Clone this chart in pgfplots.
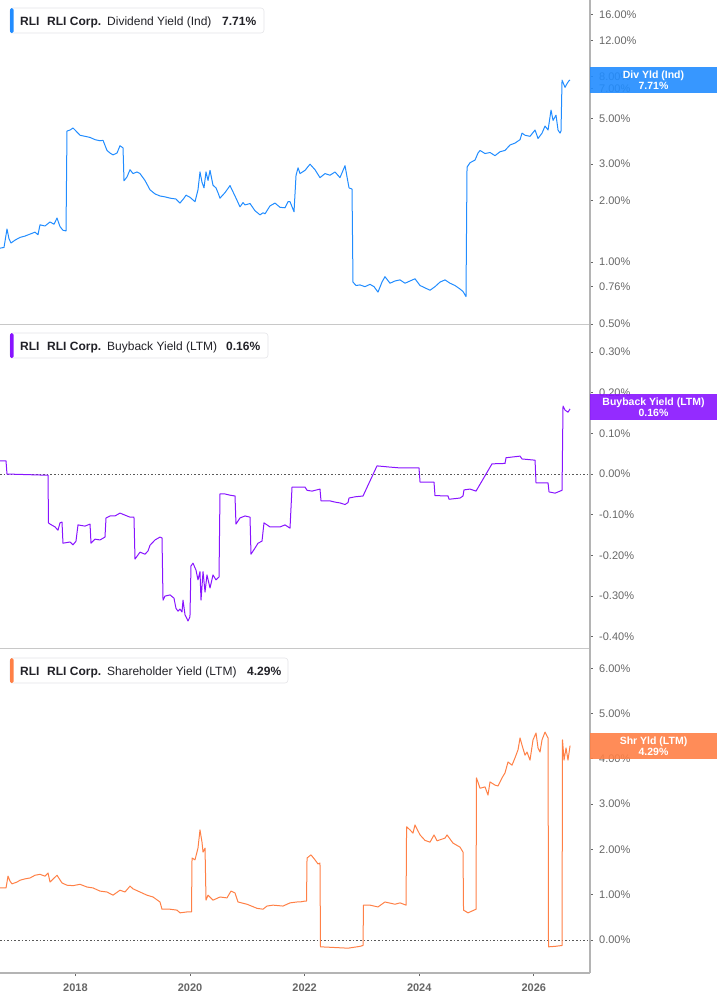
\documentclass[border=0pt]{standalone}
\usepackage{fontspec}
\setmainfont{Liberation Sans}
\usepackage{pgfplots}
\pgfplotsset{compat=1.18}

\definecolor{dyblue}{RGB}{33,140,255}
\definecolor{bbpurple}{RGB}{136,20,255}
\definecolor{shorange}{RGB}{255,128,70}
\definecolor{axgray}{RGB}{180,180,180}
\definecolor{sepgray}{RGB}{200,200,200}
\definecolor{lblgray}{RGB}{102,102,102}
\definecolor{txtdark}{RGB}{34,34,40}
\definecolor{boxgray}{RGB}{228,228,232}

\pgfplotsset{
  panel/.style={
    scale only axis, width=590pt,
    xmin=2016.684, xmax=2026.98,
    axis x line*=bottom, axis y line*=right,
    x axis line style={draw=sepgray, line width=0.8pt, -},
    y axis line style={draw=axgray, line width=1.3pt, -},
    ytick align=outside, xtick align=outside,
    major tick length=3pt,
    tick style={draw=lblgray, line width=0.8pt},
    yticklabel style={font=\fontsize{11}{13}\selectfont, text=lblgray, anchor=west, inner sep=0pt, xshift=6pt},
    xtick=\empty,
    clip=false,
  },
  zeroline/.style={dash pattern=on 1.6pt off 2pt, draw=black!65, line width=0.8pt},
  dataline/.style={line width=1pt, line join=round},
}

\newcommand{\tag}[5]{% color, y top, y bottom, line1, line2
  \fill[#1, fill opacity=0.9] (590pt,-#2) rectangle (717pt,-#3);
  \node[text=white, font=\bfseries\fontsize{10.5}{12}\selectfont, align=center, inner sep=0pt]
    at (653.5pt,{-(#2+#3)/2}) {#4\\[-1pt]#5};
}
\newcommand{\legbox}[6]{% color, y top, right x, series, value, value x
  \filldraw[fill=white, draw=boxgray, line width=0.6pt, rounded corners=3pt] (10pt,-#2) rectangle (#3,{-(#2+25pt)});
  \fill[#1, rounded corners=1.5pt] (10pt,-#2) rectangle (13.5pt,{-(#2+25pt)});
  \node[anchor=base west, inner sep=0pt, text=txtdark, font=\bfseries\fontsize{12}{14}\selectfont] at (20pt,{-(#2+17pt)}) {RLI};
  \node[anchor=base west, inner sep=0pt, text=txtdark, font=\bfseries\fontsize{12}{14}\selectfont] at (47pt,{-(#2+17pt)}) {RLI Corp.};
  \node[anchor=base west, inner sep=0pt, text=txtdark, font=\fontsize{12}{14}\selectfont] at (107pt,{-(#2+17pt)}) {#4};
  \node[anchor=base west, inner sep=0pt, text=txtdark, font=\bfseries\fontsize{12}{14}\selectfont] at (#6,{-(#2+17pt)}) {#5};
}

\begin{document}
\begin{tikzpicture}
\path[use as bounding box] (0pt,0pt) rectangle (717pt,-1005pt);

% ---------- Dividend yield (log) ----------
\begin{axis}[panel, at={(0pt,0pt)}, anchor=north west, height=324pt,
  ymode=log, ymin=0.5, ymax=18.9,
  ytick={0.5,0.76,1,2,3,5,7,8,12,16},
  yticklabels={0.50\%,0.76\%,1.00\%,2.00\%,3.00\%,5.00\%,7.00\%,8.00\%,12.00\%,16.00\%},
]
\addplot[dataline, dyblue] coordinates {
(2016.684,1.17) (2016.754,1.18) (2016.806,1.45) (2016.841,1.30) (2016.876,1.24)
(2016.946,1.28) (2017.033,1.32) (2017.120,1.34) (2017.208,1.37) (2017.295,1.40)
(2017.347,1.36) (2017.382,1.52) (2017.469,1.50) (2017.557,1.57) (2017.626,1.53)
(2017.679,1.64) (2017.731,1.49) (2017.783,1.43) (2017.836,1.42) (2017.853,4.35)
(2017.906,4.40) (2017.958,4.50) (2018.028,4.30) (2018.080,4.15) (2018.167,4.10)
(2018.255,4.05) (2018.342,3.95) (2018.429,3.90) (2018.482,3.92) (2018.551,3.50)
(2018.604,3.40) (2018.656,3.33) (2018.726,3.40) (2018.778,3.69) (2018.831,3.60)
(2018.848,2.49) (2018.900,2.60) (2018.953,2.82) (2019.005,2.70) (2019.075,2.75)
(2019.127,2.70) (2019.214,2.50) (2019.302,2.25) (2019.389,2.15) (2019.476,2.10)
(2019.563,2.08) (2019.651,2.05) (2019.755,2.03) (2019.825,1.94) (2019.895,2.05)
(2019.930,2.12) (2019.999,2.07) (2020.087,1.97) (2020.139,2.25) (2020.174,2.75)
(2020.209,2.45) (2020.244,2.30) (2020.279,2.75) (2020.314,2.50) (2020.349,2.80)
(2020.401,2.37) (2020.453,2.30) (2020.488,2.18) (2020.523,2.05) (2020.610,2.18)
(2020.698,2.36) (2020.750,2.20) (2020.785,2.10) (2020.872,1.86) (2020.925,1.95)
(2020.960,1.90) (2021.047,1.93) (2021.134,1.78) (2021.221,1.70) (2021.274,1.74)
(2021.309,1.72) (2021.396,1.88) (2021.483,1.94) (2021.570,1.85) (2021.658,1.84)
(2021.710,1.97) (2021.745,1.97) (2021.815,1.76) (2021.850,2.65) (2021.885,2.88)
(2021.920,2.70) (2022.007,2.80) (2022.094,3.00) (2022.181,2.82) (2022.268,2.58)
(2022.356,2.70) (2022.443,2.65) (2022.530,2.75) (2022.617,2.58) (2022.705,2.95)
(2022.740,2.60) (2022.775,2.30) (2022.827,2.27) (2022.844,0.80) (2022.896,0.77)
(2022.966,0.775) (2023.053,0.76) (2023.141,0.78) (2023.211,0.76) (2023.280,0.715)
(2023.350,0.80) (2023.402,0.85) (2023.490,0.79) (2023.577,0.81) (2023.665,0.82)
(2023.752,0.79) (2023.839,0.81) (2023.926,0.83) (2024.014,0.77) (2024.101,0.75)
(2024.188,0.73) (2024.275,0.76) (2024.363,0.80) (2024.450,0.82) (2024.537,0.79)
(2024.624,0.77) (2024.712,0.74) (2024.764,0.72) (2024.816,0.68) (2024.834,2.90)
(2024.886,3.05) (2024.973,3.14) (2025.026,3.40) (2025.061,3.50) (2025.148,3.38)
(2025.235,3.42) (2025.322,3.30) (2025.410,3.45) (2025.497,3.50) (2025.584,3.72)
(2025.671,3.80) (2025.759,3.95) (2025.794,4.25) (2025.846,4.15) (2025.933,4.10)
(2026.021,4.40) (2026.073,4.00) (2026.143,4.25) (2026.195,4.60) (2026.248,4.40)
(2026.300,5.50) (2026.335,4.90) (2026.387,5.20) (2026.422,4.40) (2026.457,4.25)
(2026.474,4.35) (2026.492,7.70) (2026.509,7.50) (2026.544,7.10) (2026.579,7.40)
(2026.614,7.65) (2026.632,7.71)
};
\end{axis}

% ---------- Buyback yield ----------
\begin{axis}[panel, at={(0pt,-324pt)}, anchor=north west, height=324pt,
  ymin=-0.4275, ymax=0.3686,
  ytick={-0.4,-0.3,-0.2,-0.1,0,0.1,0.2,0.3},
  yticklabels={-0.40\%,-0.30\%,-0.20\%,-0.10\%,0.00\%,0.10\%,0.20\%,0.30\%},
]
\addplot[zeroline] coordinates {(2016.684,0) (2026.98,0)};
\addplot[dataline, bbpurple] coordinates {
(2016.684,0.032) (2016.789,0.032) (2016.806,0.0) (2017.522,-0.003) (2017.530,-0.120)
(2017.557,-0.123) (2017.644,-0.130) (2017.696,-0.138) (2017.731,-0.120) (2017.766,-0.118)
(2017.783,-0.170) (2017.906,-0.167) (2017.958,-0.174) (2018.010,-0.165) (2018.045,-0.125)
(2018.167,-0.128) (2018.255,-0.123) (2018.272,-0.170) (2018.342,-0.160) (2018.429,-0.162)
(2018.516,-0.155) (2018.534,-0.108) (2018.604,-0.103) (2018.691,-0.103) (2018.778,-0.096)
(2018.865,-0.101) (2018.953,-0.106) (2019.022,-0.106) (2019.040,-0.209) (2019.127,-0.192)
(2019.214,-0.197) (2019.267,-0.189) (2019.302,-0.175) (2019.389,-0.162) (2019.476,-0.155)
(2019.511,-0.157) (2019.529,-0.310) (2019.563,-0.300) (2019.651,-0.297) (2019.720,-0.305)
(2019.755,-0.330) (2019.790,-0.337) (2019.825,-0.332) (2019.860,-0.339) (2019.878,-0.310)
(2019.913,-0.346) (2019.965,-0.361) (2019.999,-0.351) (2020.017,-0.226) (2020.052,-0.219)
(2020.104,-0.236) (2020.139,-0.260) (2020.174,-0.240) (2020.192,-0.310) (2020.227,-0.240)
(2020.262,-0.290) (2020.296,-0.248) (2020.349,-0.280) (2020.401,-0.248) (2020.453,-0.260)
(2020.506,-0.253) (2020.523,-0.049) (2020.610,-0.049) (2020.698,-0.052) (2020.785,-0.054)
(2020.802,-0.123) (2020.872,-0.108) (2020.960,-0.103) (2021.047,-0.106) (2021.064,-0.197)
(2021.134,-0.182) (2021.186,-0.170) (2021.256,-0.165) (2021.291,-0.120) (2021.396,-0.130)
(2021.570,-0.130) (2021.658,-0.125) (2021.745,-0.133) (2021.780,-0.032) (2021.920,-0.032)
(2022.007,-0.032) (2022.042,-0.040) (2022.129,-0.042) (2022.268,-0.037) (2022.286,-0.066)
(2022.443,-0.066) (2022.530,-0.069) (2022.617,-0.071) (2022.705,-0.075) (2022.757,-0.070)
(2022.775,-0.059) (2022.879,-0.056) (2023.019,-0.054) (2023.263,0.020) (2023.490,0.017)
(2023.665,0.015) (2023.996,0.015) (2024.014,-0.020) (2024.258,-0.020) (2024.275,-0.053)
(2024.502,-0.054) (2024.520,-0.062) (2024.712,-0.059) (2024.764,-0.054) (2024.781,-0.039)
(2024.886,-0.037) (2024.991,-0.042) (2025.270,0.025) (2025.497,0.026) (2025.515,0.040)
(2025.759,0.044) (2025.794,0.037) (2026.021,0.034) (2026.038,-0.022) (2026.248,-0.022)
(2026.265,-0.044) (2026.370,-0.047) (2026.492,-0.040) (2026.509,0.167) (2026.544,0.157)
(2026.596,0.152) (2026.632,0.160)
};
\end{axis}

% ---------- Shareholder yield ----------
\begin{axis}[panel, at={(0pt,-648pt)}, anchor=north west, height=325pt,
  ymin=-0.728, ymax=6.446,
  x axis line style={draw=axgray, line width=1.3pt, -},
  ytick={0,1,2,3,4,5,6},
  yticklabels={0.00\%,1.00\%,2.00\%,3.00\%,4.00\%,5.00\%,6.00\%},
  xtick={2018,2020,2022,2024,2026},
  xticklabels={2018,2020,2022,2024,2026},
  xticklabel style={font=\bfseries\fontsize{11}{13}\selectfont, text=lblgray, anchor=north, inner sep=0pt, yshift=-8pt},
]
\addplot[zeroline] coordinates {(2016.684,0) (2026.98,0)};
\addplot[dataline, shorange] coordinates {
(2016.684,1.15) (2016.789,1.15) (2016.824,1.41) (2016.859,1.30) (2016.893,1.24)
(2016.981,1.28) (2017.033,1.32) (2017.120,1.35) (2017.208,1.37) (2017.295,1.43)
(2017.382,1.45) (2017.469,1.41) (2017.522,1.48) (2017.557,1.28) (2017.679,1.43)
(2017.766,1.26) (2017.853,1.21) (2017.958,1.20) (2018.080,1.23) (2018.202,1.17)
(2018.307,1.15) (2018.429,1.08) (2018.551,1.06) (2018.656,0.99) (2018.778,1.10)
(2018.865,1.06) (2018.953,1.19) (2019.005,1.13) (2019.127,1.06) (2019.249,0.99)
(2019.354,0.95) (2019.476,0.84) (2019.511,0.68) (2019.651,0.68) (2019.773,0.66)
(2019.825,0.60) (2019.947,0.62) (2020.026,0.62) (2020.035,1.81) (2020.087,1.77)
(2020.139,2.03) (2020.174,2.43) (2020.209,2.16) (2020.227,1.94) (2020.262,2.03)
(2020.279,0.88) (2020.314,0.99) (2020.401,0.88) (2020.523,0.95) (2020.645,0.93)
(2020.715,1.08) (2020.785,1.04) (2020.837,0.84) (2020.994,0.79) (2021.169,0.70)
(2021.274,0.68) (2021.343,0.75) (2021.448,0.77) (2021.623,0.75) (2021.745,0.82)
(2021.867,0.84) (2021.920,0.84) (2022.007,0.86) (2022.033,0.86) (2022.042,1.81)
(2022.111,1.88) (2022.181,1.77) (2022.233,1.68) (2022.268,1.70) (2022.277,-0.15)
(2022.443,-0.16) (2022.757,-0.18) (2022.966,-0.14) (2023.019,-0.12) (2023.027,0.77)
(2023.141,0.77) (2023.280,0.73) (2023.402,0.84) (2023.577,0.79) (2023.665,0.82)
(2023.770,0.77) (2023.779,2.50) (2023.839,2.43) (2023.891,2.36) (2023.926,2.54)
(2024.014,2.32) (2024.101,2.20) (2024.188,2.16) (2024.258,2.32) (2024.310,2.19)
(2024.450,2.25) (2024.485,2.32) (2024.589,2.14) (2024.712,2.05) (2024.764,1.94)
(2024.773,0.66) (2024.851,0.60) (2024.991,0.68) (2024.999,3.58) (2025.061,3.35)
(2025.148,3.38) (2025.200,3.20) (2025.235,3.49) (2025.322,3.42) (2025.375,3.40)
(2025.445,3.58) (2025.497,3.69) (2025.549,3.93) (2025.619,3.86) (2025.671,4.02)
(2025.724,4.20) (2025.759,4.46) (2025.794,4.30) (2025.846,4.08) (2025.881,4.15)
(2025.933,3.97) (2025.986,4.42) (2026.038,4.57) (2026.073,4.24) (2026.108,4.15)
(2026.143,4.42) (2026.195,4.59) (2026.248,4.46) (2026.256,-0.15) (2026.370,-0.14)
(2026.492,-0.12) (2026.500,4.42) (2026.527,3.97) (2026.562,4.24) (2026.596,3.97)
(2026.632,4.29)
};
\end{axis}

% value tags on the right axis
\tag{dyblue}{67pt}{93pt}{Div Yld (Ind)}{7.71\%}
\tag{bbpurple}{394pt}{420pt}{Buyback Yield (LTM)}{0.16\%}
\tag{shorange}{733pt}{759pt}{Shr Yld (LTM)}{4.29\%}

% series captions
\legbox{dyblue}{8pt}{264pt}{Dividend Yield (Ind)}{7.71\%}{222pt}
\legbox{bbpurple}{333pt}{268pt}{Buyback Yield (LTM)}{0.16\%}{226pt}
\legbox{shorange}{658pt}{288pt}{Shareholder Yield (LTM)}{4.29\%}{247pt}
\end{tikzpicture}
\end{document}
